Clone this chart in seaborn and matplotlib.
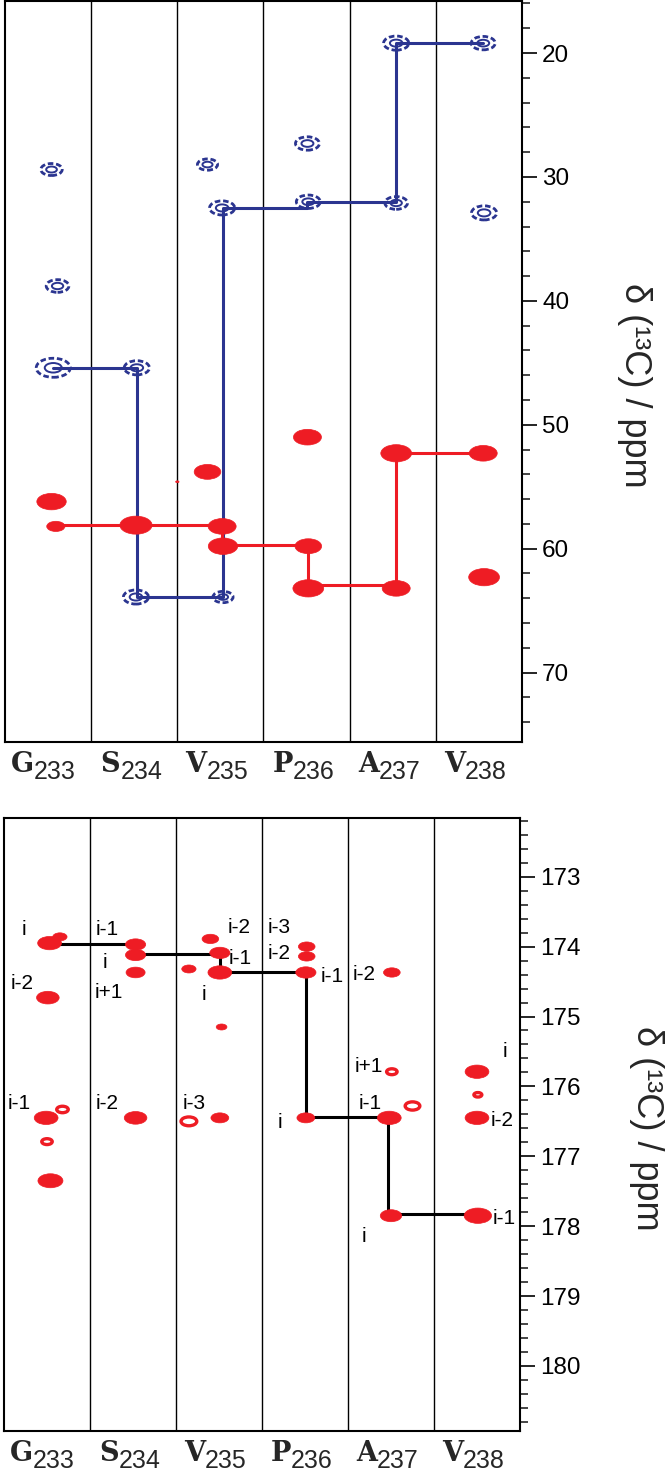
import numpy as np
import pandas as pd
import matplotlib
matplotlib.use('Agg')
import matplotlib.pyplot as plt
import seaborn as sns
from matplotlib.path import Path
from matplotlib.transforms import Affine2D
from matplotlib.ticker import MultipleLocator

# residues of the strips
residues = ['G', 'S', 'V', 'P', 'A', 'V']
res_nums = ['233', '234', '235', '236', '237', '238']

# aliphatic strips (top panel), x = strip index (+ small offset inside the strip)
blue_x = [0.04, 0.11, 0.06, 1.03, 1.85, 2.02, 3.01, 3.02, 4.04, 4.04, 5.05, 5.06, 1.02, 2.03]
blue_ppm = [29.4, 38.8, 45.4, 45.4, 29.0, 32.5, 27.3, 32.0, 19.2, 32.1, 19.2, 32.9, 63.9, 63.9]
blue_int = [0.85, 0.9, 1.35, 1.0, 0.8, 1.0, 0.95, 0.95, 1.0, 0.9, 0.95, 1.0, 1.0, 0.8]

red_x = [0.04, 0.09, 1.02, 1.85, 2.02, 2.03, 3.01, 3.02, 3.02, 4.04, 4.04, 5.05, 5.06, 1.50]
red_ppm = [56.2, 58.2, 58.1, 53.8, 58.2, 59.8, 51.0, 59.8, 63.2, 52.3, 63.2, 52.3, 62.3, 54.6]
red_int = [1.05, 0.65, 1.15, 0.95, 1.0, 1.05, 1.0, 0.95, 1.1, 1.1, 1.0, 1.0, 1.1, 0.12]

# sequential walks
blue_walk_x = [0.06, 1.03, 1.03, 2.03, 2.03, 3.01, 3.01, 4.04, 4.04, 5.05]
blue_walk_ppm = [45.4, 45.4, 63.9, 63.9, 32.5, 32.5, 32.0, 32.0, 19.2, 19.2]
red_walk_x = [0.05, 1.02, 2.02, 2.02, 3.02, 3.02, 4.04, 4.04, 5.05]
red_walk_ppm = [58.1, 58.1, 58.1, 59.7, 59.7, 62.9, 62.9, 52.3, 52.3]

# carbonyl strips (bottom panel)
co_x = [0.03, 0.15, 0.01, 1.03, 1.03, 1.03, 1.65, 1.90, 2.01, 2.01, 2.03,
        3.02, 3.02, 3.01, 4.01, 4.01, 5.00, 5.01, 5.00, -0.01, 0.18, 0.00,
        0.04, 1.03, 1.65, 2.01, 3.01, 3.98, 4.25, 4.00, 5.01]
co_ppm = [173.95, 173.86, 174.73, 173.97, 174.12, 174.37, 174.32, 173.89, 174.09, 174.37, 175.15,
          174.00, 174.14, 174.37, 174.37, 175.79, 175.79, 176.12, 176.45, 176.45, 176.33, 176.79,
          177.35, 176.45, 176.50, 176.45, 176.45, 176.45, 176.28, 177.85, 177.85]
co_int = [1.0, 0.6, 0.95, 0.85, 0.85, 0.8, 0.6, 0.7, 0.85, 1.0, 0.45,
          0.7, 0.7, 0.85, 0.7, 0.5, 1.0, 0.38, 1.0, 1.0, 0.55, 0.5,
          1.05, 0.95, 0.75, 0.75, 0.75, 1.0, 0.7, 0.9, 1.15]
# number of contour levels above the noise (1 = only the lowest contour)
co_levels = [4, 3, 4, 4, 4, 3, 3, 3, 4, 4, 2,
             3, 3, 4, 3, 1, 4, 1, 4, 4, 1, 1,
             4, 4, 1, 4, 4, 4, 1, 4, 4]

co_walk_x = [0.03, 1.03, 1.03, 2.01, 2.01, 3.01, 3.01, 3.97, 3.97, 5.01]
co_walk_ppm = [173.96, 173.96, 174.10, 174.10, 174.37, 174.37, 176.44, 176.44, 177.83, 177.83]

lab_text = ['i', 'i-1', 'i', 'i-2', 'i+1', 'i-2', 'i-3', 'i-1', 'i-2', 'i', 'i-1',
            'i-2', 'i', 'i+1', 'i-1', 'i-2', 'i-3', 'i-1', 'i', 'i-2', 'i-1', 'i']
lab_x = [-0.27, 0.70, 0.67, -0.29, 0.72, 2.23, 2.70, 2.25, 2.70, 1.82, 3.32,
         3.69, 5.32, 3.74, -0.32, 0.70, 1.71, 3.76, 2.71, 5.29, 5.32, 3.69]
lab_ppm = [173.84, 173.84, 174.30, 174.61, 174.73, 173.80, 173.80, 174.25, 174.18, 174.76, 174.51,
           174.48, 175.58, 175.80, 176.33, 176.33, 176.33, 176.33, 176.59, 176.56, 177.97, 178.23]

BLUE = '#2b3590'
RED = '#ee1c24'

sns.set_theme(style='white')
plt.rcParams['font.family'] = ['Liberation Sans', 'DejaVu Sans']

ell = Path.unit_circle().transformed(Affine2D().scale(1.0, 0.56))

fig = plt.figure(figsize=(6.66, 14.71), dpi=100)
ax1 = fig.add_axes([5 / 666, 1 - 742 / 1471, 517 / 666, 741 / 1471])
ax2 = fig.add_axes([4 / 666, 1 - 1431 / 1471, 516 / 666, 613 / 1471])

PT = 28 * 0.72  # marker width (pt) of a peak with intensity 1


def peak_sizes(vals, scale=1.0):
    return (np.asarray(vals) * PT * scale) ** 2


def frame(ax, ylim, major, minor, lblx, lbly):
    ax.set_xlim(-0.5, 5.5)
    ax.set_ylim(*ylim)
    ax.set_xticks([])
    for xv in np.arange(0.5, 5.5, 1.0):
        ax.axvline(xv, color='black', lw=1.0, zorder=1)
    for sp in ax.spines.values():
        sp.set_visible(True)
        sp.set_color('black')
        sp.set_linewidth(1.5)
    ax.yaxis.tick_right()
    ax.yaxis.set_major_locator(MultipleLocator(major))
    ax.yaxis.set_minor_locator(MultipleLocator(minor))
    ax.tick_params(axis='y', which='major', direction='out', length=10.5, width=1.2,
                   pad=4, labelsize=17.5, colors='black')
    ax.tick_params(axis='y', which='minor', direction='out', length=6, width=1.2,
                   right=True, left=False)
    ax.tick_params(axis='y', which='major', right=True, left=False)
    ax.set_xlabel('')
    ax.set_ylabel('')
    ax.text(lblx, lbly, 'δ (¹³C) / ppm', transform=ax.transAxes, rotation=270,
            rotation_mode='anchor', ha='center', va='center', fontsize=26)
    for i, (r, n) in enumerate(zip(residues, res_nums)):
        ax.annotate(r, xy=(i, 0), xycoords=('data', 'axes fraction'), xytext=(-10, -21.6),
                    textcoords='offset points', ha='right', va='baseline',
                    fontfamily='DejaVu Serif', fontweight='bold', fontsize=19.5)
        ax.annotate(n, xy=(i, 0), xycoords=('data', 'axes fraction'), xytext=(-10, -26.5),
                    textcoords='offset points', ha='left', va='baseline', fontsize=18)


# ---- top panel ----
sns.lineplot(x=blue_walk_x, y=blue_walk_ppm, sort=False, estimator=None, color=BLUE,
             lw=2.2, ax=ax1, zorder=2)
sns.lineplot(x=red_walk_x, y=red_walk_ppm, sort=False, estimator=None, color=RED,
             lw=2.2, ax=ax1, zorder=2)
sns.scatterplot(x=red_x, y=red_ppm, marker=ell, s=peak_sizes(red_int), color=RED,
                edgecolor=RED, linewidth=0.5, ax=ax1, zorder=3)
sns.scatterplot(x=blue_x, y=blue_ppm, marker=ell, s=peak_sizes(blue_int, 0.9),
                facecolor='none', edgecolor=BLUE, linewidth=2.0, linestyle=(0, (2, 1)),
                ax=ax1, zorder=3)
sns.scatterplot(x=blue_x, y=blue_ppm, marker=ell, s=peak_sizes(blue_int, 0.45),
                facecolor='none', edgecolor=BLUE, linewidth=1.4, ax=ax1, zorder=3)
frame(ax1, (75.6, 15.8), 10, 2, 1.217, 0.482)

# ---- bottom panel ----
co = pd.DataFrame({'x': co_x, 'ppm': co_ppm, 'int': co_int, 'lev': co_levels})
strong = co[co['lev'] > 1]
weak = co[co['lev'] == 1]
sns.lineplot(x=co_walk_x, y=co_walk_ppm, sort=False, estimator=None, color='black',
             lw=2.2, ax=ax2, zorder=2)
sns.scatterplot(data=strong, x='x', y='ppm', marker=ell, s=peak_sizes(strong['int'], 0.85),
                color=RED, edgecolor=RED, linewidth=0.5, ax=ax2, zorder=3)
sns.scatterplot(data=weak, x='x', y='ppm', marker=ell, s=peak_sizes(weak['int'], 0.75),
                facecolor='none', edgecolor=RED, linewidth=2.4, ax=ax2, zorder=3)
for t, xv, yv in zip(lab_text, lab_x, lab_ppm):
    ax2.text(xv, yv, t, ha='center', va='baseline', fontsize=15, color='black', zorder=4)
frame(ax2, (180.93, 172.16), 1, 0.2, 1.246, 0.494)

fig.savefig('out.png', dpi=100)
